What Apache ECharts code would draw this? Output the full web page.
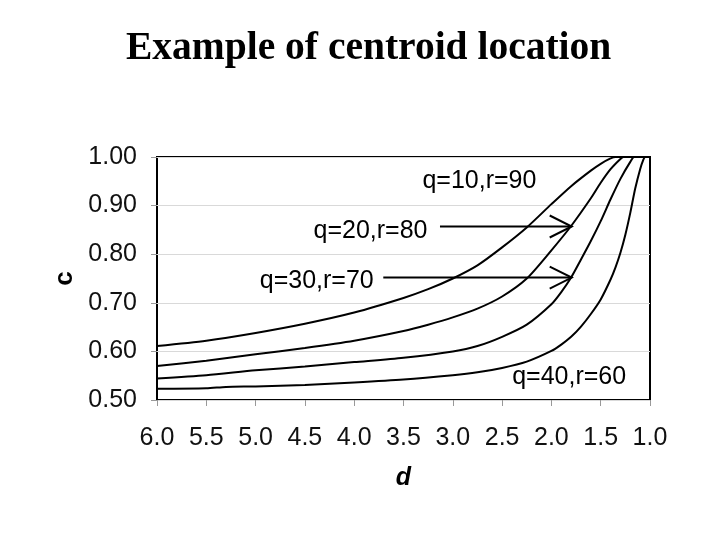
<!DOCTYPE html>
<html><head><meta charset="utf-8">
<script src="https://cdn.jsdelivr.net/npm/echarts@6/dist/echarts.min.js"></script>
<style>html,body{margin:0;padding:0;background:#fff}#c{width:720px;height:540px}</style>
</head><body><div id="c"></div>
<script>
const titleText = 'Example of centroid location';
const xName = 'd';
const yName = 'c';

const d1 = [6.0,5.5,5.0,4.5,4.0,3.5,3.25,3.0,2.75,2.5,2.25,2.0,1.8,1.6,1.5,1.4,1.35,1.0];
const c1 = [0.611,0.622,0.638,0.657,0.680,0.710,0.728,0.750,0.777,0.814,0.855,0.903,0.940,0.972,0.986,0.997,1.0,1.0];

const d2 = [6.0,5.5,5.0,4.5,4.0,3.5,3.25,3.0,2.75,2.5,2.25,2.0,1.8,1.6,1.5,1.4,1.3,1.27,1.0];
const c2 = [0.570,0.581,0.594,0.607,0.622,0.642,0.655,0.670,0.688,0.713,0.750,0.808,0.858,0.915,0.947,0.975,0.996,1.0,1.0];

const d3 = [6.0,5.5,5.0,4.5,4.0,3.5,3.0,2.75,2.5,2.25,2.0,1.9,1.8,1.7,1.6,1.5,1.4,1.3,1.2,1.16,1.0];
const c3 = [0.544,0.551,0.561,0.569,0.578,0.587,0.600,0.611,0.630,0.655,0.697,0.722,0.752,0.789,0.827,0.868,0.913,0.955,0.990,1.0,1.0];

const d4 = [6.0,5.5,5.3,5.0,4.5,4.0,3.5,3.0,2.75,2.5,2.25,2.0,1.9,1.8,1.7,1.6,1.5,1.4,1.35,1.3,1.25,1.2,1.15,1.1,1.07,1.05,1.0];
const c4 = [0.523,0.524,0.527,0.528,0.531,0.536,0.542,0.551,0.557,0.566,0.579,0.601,0.614,0.630,0.651,0.677,0.707,0.748,0.773,0.803,0.840,0.885,0.935,0.975,0.993,1.0,1.0];

const seriesNames = ['q=10,r=90','q=20,r=80','q=30,r=70','q=40,r=60'];
// annotation anchor positions in data coords [d, c]
const labelPos = [[2.73,0.951],[3.835,0.848],[4.38,0.745],[1.82,0.547]];
const arrowFrom = [[3.13,0.857],[3.705,0.752]];
const arrowTo = [[1.794,0.857],[1.794,0.752]];

const pairs = (xs, ys) => xs.map((x,i)=>[x, ys[i]]);
const allD = [d1,d2,d3,d4], allC = [c1,c2,c3,c4];

const chart = echarts.init(document.getElementById('c'));
const FONT = 'Liberation Sans, Arial, sans-serif';
chart.setOption({
  animation: false,
  backgroundColor: '#fff',
  title: {
    text: titleText, left: 121, top: 24,
    textStyle: {fontFamily: 'Liberation Serif', fontWeight: 'bold', fontSize: 39.5, color: '#000'}
  },
  grid: {left: 157, right: 70, top: 157, bottom: 140, show: true, borderColor: '#000', borderWidth: 2, containLabel: false},
  xAxis: {
    type: 'value', inverse: true, min: 1, max: 6, interval: 0.5,
    name: xName, nameLocation: 'middle', nameGap: 66,
    nameTextStyle: {fontFamily: FONT, fontWeight: 'bold', fontStyle: 'italic', fontSize: 25, color: '#000'},
    axisLine: {show: false},
    axisTick: {show: true, length: 6, lineStyle: {color: '#999'}},
    axisLabel: {margin: 26, fontFamily: FONT, fontSize: 25, color: '#111', formatter: v => v.toFixed(1)},
    splitLine: {show: false}
  },
  yAxis: {
    type: 'value', min: 0.5, max: 1.0, interval: 0.1,
    name: yName, nameLocation: 'middle', nameGap: 79,
    nameTextStyle: {fontFamily: FONT, fontWeight: 'bold', fontSize: 26, color: '#000'},
    axisLine: {show: false},
    axisTick: {show: true, length: 6, lineStyle: {color: '#999'}},
    axisLabel: {margin: 20, fontFamily: FONT, fontSize: 25, color: '#111', formatter: v => v.toFixed(2)},
    splitLine: {show: true, lineStyle: {color: '#d9d9d9', width: 1}}
  },
  series: allD.map((ds, i) => ({
    type: 'line', name: seriesNames[i], data: pairs(ds, allC[i]),
    showSymbol: false, smooth: 0.25, clip: true,
    lineStyle: {color: '#000', width: 2}
  }))
});

const P = p => chart.convertToPixel({gridIndex: 0}, p);
const graphics = [];
seriesNames.forEach((n, i) => {
  const [x, y] = P(labelPos[i]);
  graphics.push({type: 'text', x: x, y: y, style: {text: n, fontFamily: FONT, fontSize: 25, fill: '#000', textAlign: 'center', textVerticalAlign: 'middle'}});
});
arrowFrom.forEach((f, i) => {
  const a = P(f), b = P(arrowTo[i]);
  graphics.push({type: 'line', shape: {x1: a[0], y1: a[1], x2: b[0], y2: b[1]}, style: {stroke: '#000', lineWidth: 2}});
  graphics.push({type: 'polyline', shape: {points: [[b[0]-22, b[1]-11],[b[0], b[1]],[b[0]-22, b[1]+11]]}, style: {stroke: '#000', lineWidth: 2, fill: null}});
});
chart.setOption({graphic: graphics});
</script>
</body></html>
